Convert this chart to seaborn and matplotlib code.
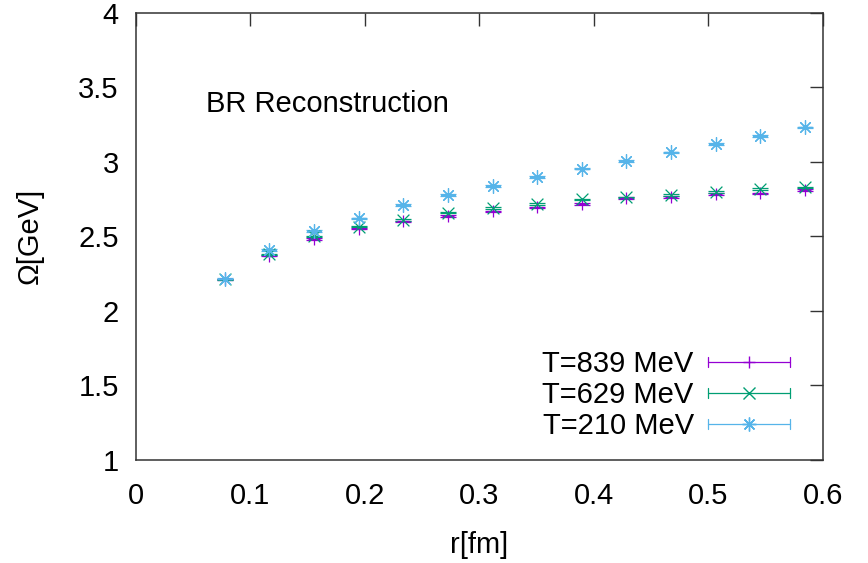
import matplotlib
matplotlib.use("Agg")
import matplotlib.pyplot as plt
from matplotlib.lines import Line2D
from matplotlib.legend_handler import HandlerBase
import seaborn as sns
import pandas as pd
import numpy as np

# ---- data ----
r = [0.0779, 0.1168, 0.1558, 0.1947, 0.2337, 0.2726, 0.3116,
     0.3505, 0.3895, 0.4284, 0.4674, 0.5063, 0.5453, 0.5842]
omega_839 = [2.21, 2.37, 2.48, 2.55, 2.60, 2.636, 2.666,
             2.693, 2.715, 2.755, 2.764, 2.782, 2.787, 2.811]
omega_629 = [2.21, 2.378, 2.498, 2.565, 2.61, 2.659, 2.690,
             2.715, 2.748, 2.760, 2.775, 2.798, 2.816, 2.827]
omega_210 = [2.215, 2.407, 2.535, 2.619, 2.708, 2.775, 2.836,
             2.898, 2.954, 3.006, 3.062, 3.120, 3.174, 3.230]
err_839 = [0.005] * 14
err_629 = [0.005] * 14
err_210 = [0.005] * 14
labels = ["T=839 MeV", "T=629 MeV", "T=210 MeV"]
colors = ["#9400D3", "#009E73", "#56B4E9"]
markers = ["+", "x", (8, 2, 0)]
xticks = [0, 0.1, 0.2, 0.3, 0.4, 0.5, 0.6]
yticks = [1, 1.5, 2, 2.5, 3, 3.5, 4]
xtick_labels = ["0", "0.1", "0.2", "0.3", "0.4", "0.5", "0.6"]
ytick_labels = ["1", "1.5", "2", "2.5", "3", "3.5", "4"]

sns.set_theme(style="white")
plt.rcParams["font.family"] = ["Liberation Sans", "DejaVu Sans"]
plt.rcParams["text.color"] = "black"
plt.rcParams["axes.labelcolor"] = "black"
plt.rcParams["xtick.color"] = "black"
plt.rcParams["ytick.color"] = "black"
FS = 21

fig = plt.figure(figsize=(8.68, 5.63), dpi=100)
ax = fig.add_axes([135.5 / 868, 1 - 459.6 / 563, (823 - 135.5) / 868, (459.6 - 12.8) / 563])

series = [omega_839, omega_629, omega_210]
errs = [err_839, err_629, err_210]
msizes = [9, 8.5, 10]
for vals, e, lab, c, m, ms in zip(series, errs, labels, colors, markers, msizes):
    df = pd.DataFrame({"r": r, "omega": vals})
    ax.errorbar(df["r"], df["omega"], yerr=e, fmt="none", ecolor=c,
                elinewidth=0.9, capsize=5.5, capthick=0.9, zorder=2)
    sns.scatterplot(data=df, x="r", y="omega", marker=m, s=ms ** 2,
                    color=c, linewidth=0.9, ax=ax, zorder=3, legend=False)

ax.set_xlim(0, 0.6)
ax.set_ylim(1, 4)
ax.set_xticks(xticks)
ax.set_xticklabels(xtick_labels)
ax.set_yticks(yticks)
ax.set_yticklabels(ytick_labels)
ax.tick_params(axis="both", which="both", direction="in", length=9.4, width=1.0,
               color="#333333", labelsize=FS, labelcolor="black",
               top=True, right=True, labeltop=False, labelright=False)
ax.tick_params(axis="x", pad=16)
ax.tick_params(axis="y", pad=12)
for s in ax.spines.values():
    s.set_visible(True)
    s.set_color("#333333")
    s.set_linewidth(1.1)

ax.set_xlabel("r[fm]", fontsize=FS, color="black")
ax.set_ylabel("Ω[GeV]", fontsize=FS, color="black")
ax.xaxis.set_label_coords(0.5, (459.6 - 545) / 446.8)
ax.xaxis.label.set_va("center")
ax.yaxis.set_label_coords((30 - 135.5) / 687.5, 0.5)
ax.yaxis.label.set_va("center")

ax.text((206 - 135.5) / 687.5, (459.6 - 104) / 446.8, "BR Reconstruction",
        transform=ax.transAxes, ha="left", va="center", fontsize=FS, color="black")


class HandlerErrH(HandlerBase):
    def create_artists(self, legend, orig_handle, xdescent, ydescent, width,
                       height, fontsize, trans):
        c = orig_handle.get_color()
        y = height / 2 - ydescent
        x0 = -xdescent
        x1 = width - xdescent
        cap = 3.6
        arts = [
            Line2D([x0, x1], [y, y], color=c, lw=0.9),
            Line2D([x0, x0], [y - cap, y + cap], color=c, lw=0.9),
            Line2D([x1, x1], [y - cap, y + cap], color=c, lw=0.9),
            Line2D([(x0 + x1) / 2], [y], marker=orig_handle.get_marker(),
                   ms=orig_handle.get_markersize(), mew=1.0, color=c,
                   linestyle="none"),
        ]
        for a in arts:
            a.set_transform(trans)
        return arts


handles = [Line2D([], [], color=c, marker=m, ms=ms, linestyle="none", label=l)
           for c, m, ms, l in zip(colors, markers, msizes, labels)]
leg = ax.legend(handles=handles, loc="center right",
                bbox_to_anchor=((790 - 135.5) / 687.5, (459.6 - 395) / 446.8),
                frameon=False, markerfirst=False, fontsize=FS, handlelength=2.8,
                handletextpad=0.5, labelspacing=0.1, borderpad=0, borderaxespad=0,
                handler_map={Line2D: HandlerErrH()})
for t in leg.get_texts():
    t.set_color("black")

fig.savefig("out.png", dpi=100)
